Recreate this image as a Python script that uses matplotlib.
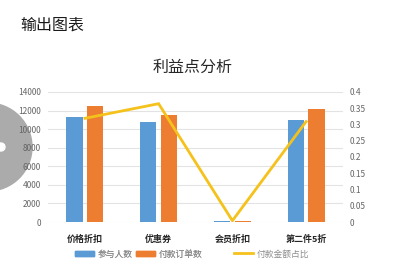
import matplotlib
matplotlib.use("Agg")
import matplotlib.pyplot as plt
from matplotlib.patches import Ellipse, Patch
from matplotlib.lines import Line2D
import numpy as np

plt.rcParams['font.family'] = ['Noto Sans CJK SC', 'DejaVu Sans']

categories = ['价格折扣', '优惠券', '会员折扣', '第二件5折']
participants = [11270, 10770, 120, 10985]
paid_orders = [12490, 11560, 150, 12140]
paid_ratio = [0.319, 0.364, 0.004, 0.309]
left_ticks = [0, 2000, 4000, 6000, 8000, 10000, 12000, 14000]
right_ticks = [0, 0.05, 0.1, 0.15, 0.2, 0.25, 0.3, 0.35, 0.4]
right_tick_labels = ['0', '0.05', '0.1', '0.15', '0.2', '0.25', '0.3', '0.35', '0.4']

BLUE = '#5B9BD5'
ORANGE = '#ED7D31'
GOLD = '#F5C21B'
TICK_GRAY = '#595959'

W, H = 412, 278
fig = plt.figure(figsize=(W / 100, H / 100), dpi=100)
fig.patch.set_facecolor('white')

def fx(px):
    return px / W

def fy(py):
    return 1 - py / H

ax = fig.add_axes([fx(48), fy(222), fx(343) - fx(48), fy(92) - fy(222)])
ax2 = ax.twinx()

x = np.arange(len(categories))
bw = 0.22
ax.bar(x - 0.14, participants, width=bw, color=BLUE, zorder=3)
ax.bar(x + 0.14, paid_orders, width=bw, color=ORANGE, zorder=3)
ax2.plot(x, paid_ratio, color=GOLD, lw=2.0, zorder=4, solid_joinstyle='miter')

ax.set_xlim(-0.5, len(categories) - 0.5)
ax.set_ylim(0, 14000)
ax2.set_ylim(0, 0.4)
ax.set_yticks(left_ticks)
ax.set_yticklabels([str(v) for v in left_ticks])
ax2.set_yticks(right_ticks)
ax2.set_yticklabels(right_tick_labels)
ax.set_xticks(x)
ax.set_xticklabels(categories, fontsize=6.5, fontweight='bold', color='#262626')

ax.grid(axis='y', color='#E3E3E3', lw=0.8, zorder=0)
ax.set_axisbelow(True)
for a in (ax, ax2):
    for s in a.spines.values():
        s.set_visible(False)
ax.tick_params(axis='both', length=0)
ax2.tick_params(axis='both', length=0)
ax.tick_params(axis='y', labelsize=6, labelcolor='#666666', pad=5)
ax2.tick_params(axis='y', labelsize=6, labelcolor='#666666', pad=5)
ax.tick_params(axis='x', pad=9)

fig.text(fx(20), fy(25), '输出图表', fontsize=11.5, color='#1a1a1a', va='center', ha='left')
fig.text(fx(193), fy(67), '利益点分析', fontsize=11.5, color='#262626', va='center', ha='center')

leg1 = fig.legend(handles=[Patch(color=BLUE, label='参与人数'), Patch(color=ORANGE, label='付款订单数')],
                  loc='center left', bbox_to_anchor=(fx(67), fy(254)), ncol=2, frameon=False,
                  fontsize=6.3, handlelength=2.2, handleheight=0.55, handletextpad=0.4,
                  columnspacing=0.4, labelcolor='#8c8c8c')
leg2 = fig.legend(handles=[Line2D([0], [0], color=GOLD, lw=2, label='付款金额占比')],
                  loc='center left', bbox_to_anchor=(fx(226), fy(254)), frameon=False,
                  fontsize=6.3, handlelength=2.2, handletextpad=0.4, labelcolor='#8c8c8c')
fig.add_artist(leg1)

# grey round overlay on the left edge, kept beneath the axes and their labels
fig.add_artist(Ellipse((fx(-12), fy(147)), 2 * 44 / W, 2 * 44 / H, transform=fig.transFigure,
                       color='#ABABAB', zorder=-2))
fig.add_artist(Ellipse((fx(1), fy(147)), 2 * 4 / W, 2 * 4 / H, transform=fig.transFigure,
                       color='white', zorder=-1))
ax.patch.set_alpha(0)
ax2.patch.set_alpha(0)

fig.savefig('out.png', dpi=100)
